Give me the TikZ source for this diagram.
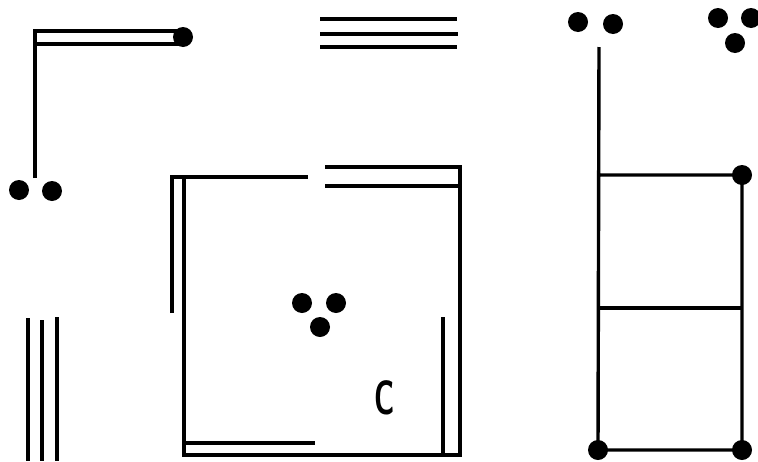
\documentclass[tikz,border=0pt]{standalone}
\usepackage{tikz}

\tikzset{
  wall/.style={line width=3.4pt, line cap=butt},
  blob/.style={circle, fill, inner sep=0pt, minimum size=20pt},
}

\begin{document}
\begin{tikzpicture}[x=1pt, y=-1pt]
  \useasboundingbox (0,0) rectangle (758,461);
  % top left corner piece
  \draw[wall] (35,178) -- (35,31) -- (180,31);
  \draw[wall] (36,44) -- (183,44);
  \node[blob] (tl) at (183,37) {};
  \node[blob] (la) at (19,190) {};
  \node[blob] (lb) at (52,191) {};
  % three stripes at the top
  \draw[wall] (320,19) -- (457,19);
  \draw[wall] (320,34) -- (458,34);
  \draw[wall] (320,47) -- (457,47);
  % three stripes bottom left
  \draw[wall] (28,318) -- (28,461);
  \draw[wall] (42,320) -- (42,461);
  \draw[wall] (57,317) -- (57,461);
  % the big room
  \draw[wall] (172,313) -- (172,177) -- (308,177);
  \draw[wall] (184,177) -- (184,455) -- (460,455) -- (460,167) -- (325,167);
  \draw[wall] (325,186) -- (460,186);
  \draw[wall] (184,443) -- (315,443);
  \draw[wall] (443,317) -- (443,455);
  \node[blob] (ca) at (302,303) {};
  \node[blob] (cb) at (336,303) {};
  \node[blob] (cc) at (320,327) {};
  \node[font=\sffamily\bfseries\fontsize{48}{48}\selectfont, xscale=0.6, inner sep=0pt] (lab) at (385,398) {C};
  % the ladder on the right
  \node[blob] (ra) at (578,22) {};
  \node[blob] (rb) at (613,24) {};
  \node[blob] (rc) at (718,18) {};
  \node[blob] (rd) at (751,18) {};
  \node[blob] (re) at (735,43) {};
  \node[blob] (p1) at (742,175) {};
  \node[blob] (p2) at (598,450) {};
  \node[blob] (p3) at (742,450) {};
  \draw[wall] (599,47) -- (p2.center) -- (p3.center) -- (p1.center) -- (600,175);
  \draw[wall] (600,308) -- (742,308);
\end{tikzpicture}
\end{document}
